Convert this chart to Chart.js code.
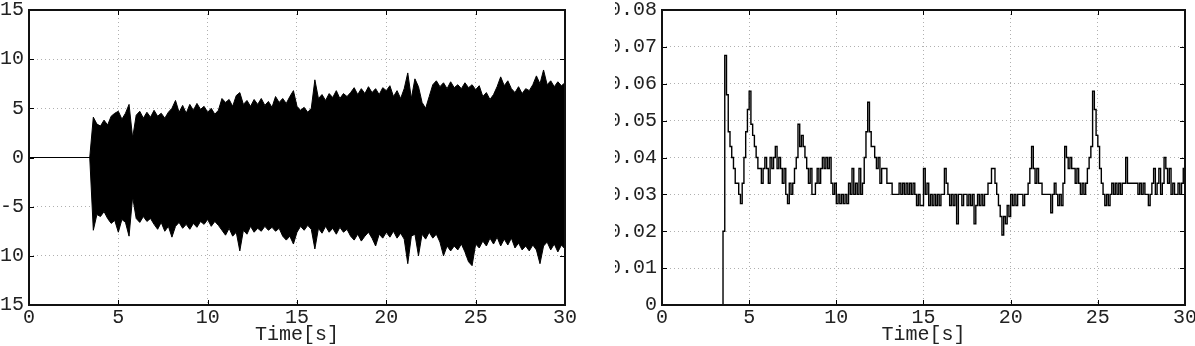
<!DOCTYPE html>
<html>
<head>
<meta charset="utf-8">
<script src="https://cdn.jsdelivr.net/npm/chart.js"></script>
<style>
    body { margin: 0; background: #fff; }
    .panel { position: absolute; top: 0; height: 346px; overflow: hidden; }
    .panel canvas { position: absolute; top: 0; }
</style>
</head>
<body>
<div class="panel" style="left:0; width:600px;">
    <canvas id="signalChart" width="600" height="346" style="left:-20px;"></canvas>
</div>
<div class="panel" style="left:615px; width:580px;">
    <canvas id="levelChart" width="598" height="346" style="left:-13px;"></canvas>
</div>
<script>
// Tick labels
const xTicks = [0, 5, 10, 15, 20, 25, 30];
const signalYTicks = [-15, -10, -5, 0, 5, 10, 15];
const levelYTicks = [0, 0.01, 0.02, 0.03, 0.04, 0.05, 0.06, 0.07, 0.08];

// Left chart: signal envelope, sampled every 0.2 s from 3.4 s (zero before)
const signalStart = 3.4;
const signalStep = 0.2;
const signalUpper = [
    0, 4.1, 3.4,
    3.2, 3.8, 3.3, 4.2, 4.5, 4.7, 3.9, 4.5, 5.4, 2.0,
    4.3, 4.7, 4.0, 4.6, 4.1, 4.8, 4.2, 4.5, 4.0, 4.6,
    5.0, 5.8, 4.6, 5.3, 4.5, 5.4, 4.8, 5.5, 4.9, 5.2,
    4.6, 5.0, 4.4, 4.8, 6.0, 5.6, 5.9, 5.2, 6.3, 6.6,
    5.4, 5.8, 5.2, 5.9, 5.4, 6.0, 5.3, 5.7, 5.1, 6.2,
    5.6, 6.0, 5.5, 6.2, 6.8, 5.2, 4.8, 5.1, 4.6, 5.0,
    7.9, 6.0, 6.4, 5.8, 6.5, 6.1, 6.8, 6.0, 6.5, 6.2,
    6.6, 7.1, 6.4, 7.0, 6.5, 7.2, 6.6, 7.0, 6.4, 7.1,
    6.8, 7.3, 6.2, 6.8, 6.0, 7.0, 8.6, 6.0, 8.0, 7.2,
    5.6, 5.0, 6.2, 7.4, 7.8, 7.2, 7.6, 7.0, 7.7, 7.1,
    7.4, 7.0, 7.6, 7.1, 7.4, 6.9, 7.3, 6.2, 6.6, 5.9,
    6.4, 7.2, 8.2, 7.3, 7.8, 7.0, 6.6, 7.2, 6.5, 7.0,
    6.8, 7.4, 8.3, 7.5, 8.9, 7.4, 7.8, 7.2, 7.7, 7.3,
    7.6
];
const signalLower = [
    0, -7.4, -5.8,
    -6.0, -5.5, -6.2, -6.7, -6.4, -7.6, -6.3, -6.6, -8.0, -4.0,
    -6.2, -6.6, -6.0, -6.5, -6.2, -6.8, -7.3, -6.6, -7.5, -7.0,
    -8.1, -7.0, -6.6, -7.2, -6.8, -7.3, -6.7, -7.1, -6.5, -6.8,
    -6.3, -7.0, -6.5, -6.9, -7.4, -7.9, -7.2, -8.0, -7.6, -9.5,
    -7.4, -7.8, -7.0, -7.6, -7.2, -7.5, -7.0, -7.4, -7.1, -7.5,
    -7.2, -8.0, -8.4, -8.0, -8.8, -7.6, -7.0, -7.4, -6.9, -7.3,
    -9.3, -7.2, -7.7, -7.0, -7.6, -7.2, -7.8, -7.1, -7.6, -7.3,
    -8.0, -8.4, -7.8, -8.5, -8.0, -7.6, -8.2, -9.0, -7.8, -8.2,
    -7.6, -8.1, -7.5, -8.2, -7.7, -8.3, -10.8, -8.0, -7.8, -10.0,
    -7.8, -8.3, -7.6, -8.2, -7.8, -8.6, -10.0, -9.0, -9.5, -9.0,
    -9.4, -8.8, -9.6, -10.6, -11.0, -8.8, -9.2, -8.5, -9.0, -8.2,
    -8.8, -8.1, -9.0, -8.3, -8.9, -8.2, -9.2, -8.7, -9.4, -9.0,
    -9.5, -8.9, -9.4, -10.8, -9.0, -8.6, -9.4, -8.8, -9.6, -8.9,
    -9.3
];

// Right chart: level signal, sampled every 0.1 s from 3.4 s (zero before)
const levelStart = 3.4;
const levelStep = 0.1;
const levelValues = [
    0, 0.02, 0.0677, 0.057, 0.047, 0.043,
    0.040, 0.037, 0.033, 0.033, 0.030, 0.0275, 0.033, 0.040, 0.047, 0.053,
    0.058, 0.049, 0.046, 0.043, 0.040, 0.037, 0.037, 0.033, 0.037, 0.040,
    0.037, 0.033, 0.040, 0.037, 0.040, 0.043, 0.037, 0.040, 0.037, 0.033,
    0.037, 0.030, 0.0275, 0.033, 0.030, 0.033, 0.037, 0.040, 0.049, 0.043,
    0.046, 0.043, 0.040, 0.037, 0.033, 0.037, 0.030, 0.030, 0.033, 0.037,
    0.033, 0.037, 0.040, 0.037, 0.040, 0.037, 0.040, 0.033, 0.030, 0.033,
    0.0275, 0.030, 0.0275, 0.030, 0.0275, 0.030, 0.0275, 0.033, 0.030, 0.037,
    0.030, 0.033, 0.030, 0.037, 0.030, 0.033, 0.040, 0.047, 0.055, 0.047,
    0.043, 0.043, 0.040, 0.037, 0.040, 0.033, 0.037, 0.037, 0.037, 0.033,
    0.033, 0.033, 0.030, 0.030, 0.030, 0.030, 0.033, 0.030, 0.033, 0.030,
    0.033, 0.030, 0.033, 0.030, 0.033, 0.030, 0.027, 0.030, 0.027, 0.027,
    0.037, 0.030, 0.033, 0.027, 0.030, 0.027, 0.030, 0.027, 0.030, 0.027,
    0.030, 0.030, 0.037, 0.033, 0.030, 0.027, 0.030, 0.027, 0.030, 0.022,
    0.030, 0.030, 0.027, 0.030, 0.030, 0.027, 0.030, 0.027, 0.030, 0.022,
    0.027, 0.030, 0.027, 0.030, 0.027, 0.030, 0.030, 0.033, 0.033, 0.037,
    0.037, 0.033, 0.030, 0.027, 0.024, 0.019, 0.024, 0.022, 0.027, 0.024,
    0.030, 0.027, 0.030, 0.027, 0.030, 0.030, 0.030, 0.027, 0.030, 0.030,
    0.033, 0.037, 0.043, 0.037, 0.033, 0.037, 0.033, 0.033, 0.030, 0.030,
    0.030, 0.030, 0.030, 0.025, 0.030, 0.033, 0.030, 0.027, 0.030, 0.027,
    0.033, 0.043, 0.040, 0.037, 0.040, 0.037, 0.037, 0.033, 0.037, 0.033,
    0.030, 0.033, 0.030, 0.033, 0.037, 0.040, 0.043, 0.058, 0.053, 0.046,
    0.043, 0.037, 0.033, 0.030, 0.027, 0.030, 0.027, 0.030, 0.033, 0.030,
    0.033, 0.030, 0.033, 0.030, 0.033, 0.033, 0.040, 0.033, 0.033, 0.033,
    0.033, 0.033, 0.033, 0.030, 0.033, 0.030, 0.033, 0.030, 0.030, 0.027,
    0.030, 0.033, 0.037, 0.030, 0.033, 0.037, 0.030, 0.033, 0.040, 0.037,
    0.033, 0.037, 0.030, 0.033, 0.030, 0.030, 0.033, 0.030, 0.033, 0.037,
    0.033
];

const FONT = { family: "'Liberation Mono', 'DejaVu Sans Mono', monospace", size: 20, lineHeight: 1 };
const TEXT_COLOR = '#222';

// Build {x, y} points from a sample grid, with a zero lead-in from t = 0
function toPoints(start, step, values) {
    const points = [{ x: 0, y: 0 }];
    values.forEach((v, i) => {
        points.push({ x: +(start + i * step).toFixed(2), y: v });
    });
    return points;
}

// Frame around the plot area and inward tick marks (MATLAB style)
const framePlugin = {
    id: 'frame',
    afterDatasetsDraw(chart) {
        const { ctx, chartArea: a, scales } = chart;
        const len = 5;
        ctx.save();
        ctx.strokeStyle = '#000';
        ctx.lineWidth = 1;
        ctx.beginPath();
        scales.x.ticks.forEach(t => {
            const px = Math.round(scales.x.getPixelForValue(t.value)) + 0.5;
            ctx.moveTo(px, a.bottom); ctx.lineTo(px, a.bottom - len);
            ctx.moveTo(px, a.top); ctx.lineTo(px, a.top + len);
        });
        scales.y.ticks.forEach(t => {
            const py = Math.round(scales.y.getPixelForValue(t.value)) + 0.5;
            ctx.moveTo(a.left, py); ctx.lineTo(a.left + len, py);
            ctx.moveTo(a.right, py); ctx.lineTo(a.right - len, py);
        });
        ctx.stroke();
        ctx.lineWidth = 2;
        ctx.strokeStyle = '#111';
        ctx.strokeRect(a.left, a.top, a.right - a.left, a.bottom - a.top);
        ctx.restore();
    }
};

// Shared scale options
function makeScales(yTicks, yMin, yMax, yWidth, yFormat) {
    const grid = {
        color: '#b0b0b0',
        lineWidth: 1,
        drawTicks: false
    };
    return {
        x: {
            type: 'linear',
            min: 0,
            max: 30,
            afterBuildTicks: scale => { scale.ticks = xTicks.map(v => ({ value: v })); },
            afterFit: scale => { scale.height = 41; },
            border: { display: false, dash: [1, 3] },
            grid: grid,
            ticks: { color: TEXT_COLOR, font: FONT, padding: 3, maxRotation: 0, callback: v => String(v) },
            title: { display: true, text: 'Time[s]', color: TEXT_COLOR, font: FONT, padding: { top: 0, bottom: 1 } }
        },
        y: {
            type: 'linear',
            min: yMin,
            max: yMax,
            afterBuildTicks: scale => { scale.ticks = yTicks.map(v => ({ value: v })); },
            afterFit: scale => {
                scale.width = yWidth;
                scale.paddingTop = 10;
            },
            border: { display: false, dash: [1, 3] },
            grid: grid,
            ticks: { color: TEXT_COLOR, font: FONT, padding: 5, callback: yFormat }
        }
    };
}

function baseOptions(scales) {
    return {
        responsive: false,
        animation: false,
        devicePixelRatio: 1,
        layout: { padding: { top: 0, right: 15, left: 0, bottom: 0 } },
        plugins: { legend: { display: false }, tooltip: { enabled: false } },
        elements: { point: { radius: 0 }, line: { tension: 0 } },
        scales: scales
    };
}

// Left chart: dense signal drawn as a filled envelope
function drawSignalChart() {
    const ctx = document.getElementById('signalChart');
    const scales = makeScales(signalYTicks, -15, 15, 49, v => String(v));
    new Chart(ctx, {
        type: 'line',
        data: {
            datasets: [
                {
                    data: toPoints(signalStart, signalStep, signalUpper),
                    borderColor: '#000',
                    borderWidth: 1,
                    backgroundColor: '#000',
                    fill: '+1'
                },
                {
                    data: toPoints(signalStart, signalStep, signalLower),
                    borderColor: '#000',
                    borderWidth: 1,
                    fill: false
                }
            ]
        },
        options: baseOptions(scales),
        plugins: [framePlugin]
    });
}

// Right chart: quantised level line
function drawLevelChart() {
    const ctx = document.getElementById('levelChart');
    const scales = makeScales(levelYTicks, 0, 0.08, 60, v => (v === 0 ? '0' : v.toFixed(2)));
    new Chart(ctx, {
        type: 'line',
        data: {
            datasets: [{
                data: toPoints(levelStart, levelStep, levelValues),
                borderColor: '#000',
                borderWidth: 1.4,
                stepped: true,
                fill: false
            }]
        },
        options: baseOptions(scales),
        plugins: [framePlugin]
    });
}

// Grid lines are dotted
Chart.defaults.scale.grid.borderDash = [1, 3];

drawSignalChart();
drawLevelChart();
</script>
</body>
</html>
